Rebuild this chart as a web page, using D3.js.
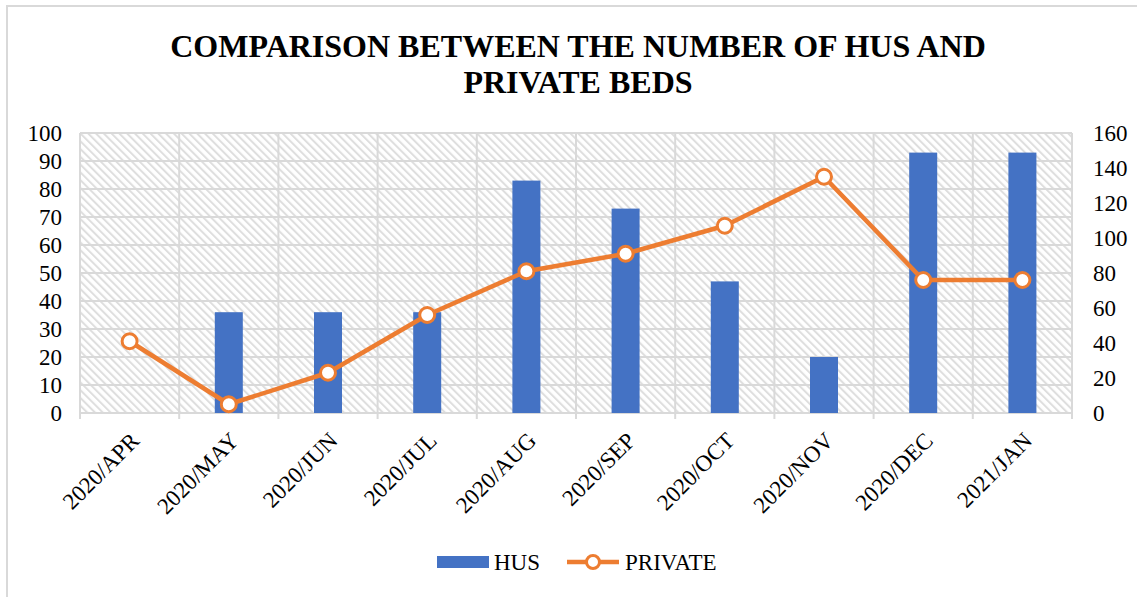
<!DOCTYPE html>
<html>
<head>
<meta charset="utf-8">
<script src="https://cdn.jsdelivr.net/npm/d3@7"></script>
<style>
  html, body { margin: 0; padding: 0; background: #fff; }
  svg { display: block; }
</style>
</head>
<body>
<svg id="chart" width="1137" height="597"></svg>
<script>
// Monthly categories
const months = ["2020/APR", "2020/MAY", "2020/JUN", "2020/JUL", "2020/AUG",
                "2020/SEP", "2020/OCT", "2020/NOV", "2020/DEC", "2021/JAN"];
// HUS beds (left axis)
const husBeds = [0, 36, 36, 36, 83, 73, 47, 20, 93, 93];
// Private beds (right axis)
const privateBeds = [41, 5, 23, 56, 81, 91, 107, 135, 76, 76];
// Axis ticks
const leftTicks = [0, 10, 20, 30, 40, 50, 60, 70, 80, 90, 100];
const rightTicks = [0, 20, 40, 60, 80, 100, 120, 140, 160];
const titleLines = ["COMPARISON BETWEEN THE NUMBER OF HUS AND", "PRIVATE BEDS"];

const svg = d3.select("#chart");
const font = "'Liberation Serif', 'Times New Roman', serif";
const plot = { left: 80, right: 1072, top: 133, bottom: 413 };
const blue = "#4472C4", orange = "#ED7D31", grid = "#d9d9d9";
const labelSize = 23;

// Outer chart frame
svg.append("rect").attr("x", 7).attr("y", 6).attr("width", 1140).attr("height", 600)
  .attr("fill", "none").attr("stroke", "#d9d9d9").attr("stroke-width", 2);

// Hatched plot background (downward diagonal)
const defs = svg.append("defs");
const pat = defs.append("pattern").attr("id", "hatch")
  .attr("patternUnits", "userSpaceOnUse").attr("width", 5.5).attr("height", 5.5)
  .attr("patternTransform", "rotate(-45)");
pat.append("rect").attr("width", 5.5).attr("height", 5.5).attr("fill", "#fff");
pat.append("rect").attr("x", 0).attr("width", 2).attr("height", 5.5).attr("fill", "#dedede");

svg.append("rect").attr("x", plot.left).attr("y", plot.top)
  .attr("width", plot.right - plot.left).attr("height", plot.bottom - plot.top)
  .attr("fill", "url(#hatch)");

const x = d3.scaleBand().domain(months).range([plot.left, plot.right]).paddingInner(0).paddingOuter(0);
const yL = d3.scaleLinear().domain([0, 100]).range([plot.bottom, plot.top]);
const yR = d3.scaleLinear().domain([0, 160]).range([plot.bottom, plot.top]);

// Horizontal gridlines
svg.append("g").selectAll("line").data(leftTicks).join("line")
  .attr("x1", plot.left).attr("x2", plot.right)
  .attr("y1", d => yL(d)).attr("y2", d => yL(d))
  .attr("stroke", grid).attr("stroke-width", 2);

// Vertical gridlines at category boundaries, extended as tick marks below the axis
const bounds = months.map(m => x(m)).concat([plot.right]);
svg.append("g").selectAll("line").data(bounds).join("line")
  .attr("x1", d => d).attr("x2", d => d)
  .attr("y1", plot.top).attr("y2", plot.bottom + 6)
  .attr("stroke", grid).attr("stroke-width", 2);

// Left axis labels
const leftAxis = d3.axisLeft(yL).tickValues(leftTicks).tickSize(0).tickPadding(18);
const gl = svg.append("g").attr("transform", `translate(${plot.left},0)`).call(leftAxis);
gl.select(".domain").remove();
gl.selectAll("text").attr("font-family", font).attr("font-size", labelSize).attr("fill", "#000").attr("dy", "0.32em");

// Right axis labels
const rightAxis = d3.axisRight(yR).tickValues(rightTicks).tickSize(0).tickPadding(21);
const gr = svg.append("g").attr("transform", `translate(${plot.right},0)`).call(rightAxis);
gr.select(".domain").remove();
gr.selectAll("text").attr("font-family", font).attr("font-size", labelSize).attr("fill", "#000").attr("dy", "0.32em");

// Bars
const barW = 28;
svg.append("g").selectAll("rect").data(husBeds).join("rect")
  .attr("x", (d, i) => x(months[i]) + x.bandwidth() / 2 - barW / 2)
  .attr("y", d => yL(d))
  .attr("width", barW)
  .attr("height", d => plot.bottom - yL(d))
  .attr("fill", blue);

// Private line with hollow markers
const cx = (d, i) => x(months[i]) + x.bandwidth() / 2;
const line = d3.line().x(cx).y(d => yR(d));
svg.append("path").datum(privateBeds).attr("d", line)
  .attr("fill", "none").attr("stroke", orange).attr("stroke-width", 4.5).attr("stroke-linejoin", "round");
svg.append("g").selectAll("circle").data(privateBeds).join("circle")
  .attr("cx", cx).attr("cy", d => yR(d)).attr("r", 7.5)
  .attr("fill", "#fff").attr("stroke", orange).attr("stroke-width", 3);

// Rotated category labels
svg.append("g").selectAll("text").data(months).join("text")
  .attr("transform", m => `translate(${x(m) + x.bandwidth() / 2 + 1},${plot.bottom + 19}) rotate(-45)`)
  .attr("text-anchor", "end")
  .attr("dy", "0.62em")
  .attr("font-family", font).attr("font-size", labelSize).attr("fill", "#000")
  .text(d => d);

// Title
svg.append("g").selectAll("text").data(titleLines).join("text")
  .attr("x", 578).attr("y", (d, i) => 57 + i * 36)
  .attr("text-anchor", "middle")
  .attr("font-family", font).attr("font-weight", "bold").attr("font-size", 32).attr("fill", "#000")
  .text(d => d);

// Legend
const lg = svg.append("g");
lg.append("rect").attr("x", 437).attr("y", 556).attr("width", 52).attr("height", 12).attr("fill", blue);
lg.append("text").attr("x", 494).attr("y", 570).attr("font-family", font).attr("font-size", labelSize).text("HUS");
lg.append("line").attr("x1", 567).attr("x2", 619).attr("y1", 562).attr("y2", 562)
  .attr("stroke", orange).attr("stroke-width", 4.5);
lg.append("circle").attr("cx", 593).attr("cy", 562).attr("r", 6.5)
  .attr("fill", "#fff").attr("stroke", orange).attr("stroke-width", 3);
lg.append("text").attr("x", 625).attr("y", 570).attr("font-family", font).attr("font-size", labelSize).text("PRIVATE");
</script>
</body>
</html>
